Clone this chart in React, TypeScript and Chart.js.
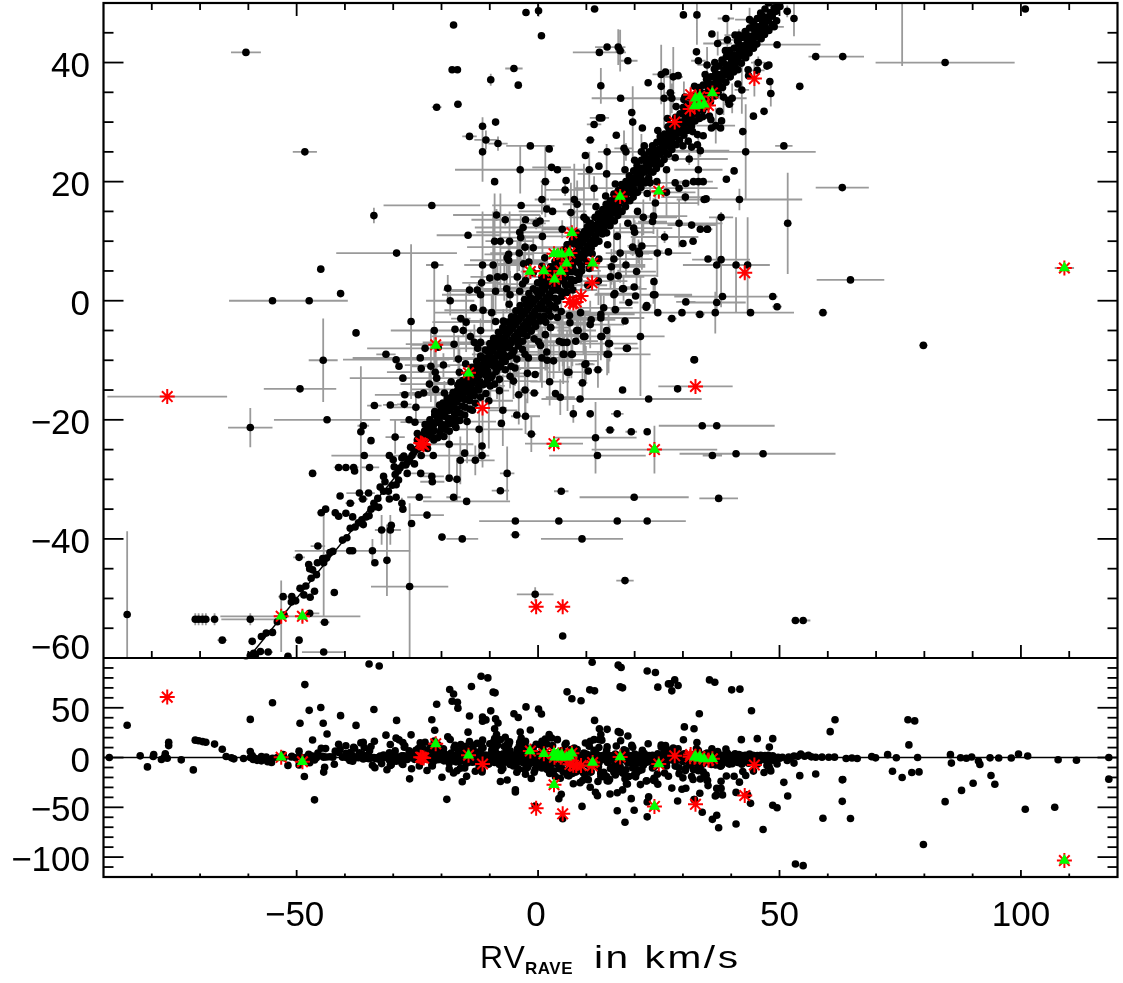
// App.tsx - RV comparison: other survey vs RAVE, with residual panel below
import React, { useEffect, useRef } from 'react';
import { Chart, registerables } from 'chart.js';

Chart.register(...registerables);

type Row = number[];

const xLabels = [-50, 0, 50, 100];
const xMinor = [-80, -70, -60, -40, -30, -20, -10, 10, 20, 30, 40, 60, 70, 80, 90, 110];
const topLabels = [40, 20, 0, -20, -40, -60];
const topMinor = [45, 35, 30, 25, 15, 10, 5, -5, -10, -15, -25, -30, -35, -45, -50, -55];
const bottomLabels = [50, 0, -50, -100];
const bottomMinor = [90, 80, 70, 60, 40, 30, 20, 10, -10, -20, -30, -40, -60, -70, -80, -90, -110];

// x, y, error x, error y
const fieldStars: Row[] = [
  [-60.5, 41.7, 3.1, 0.2], [-48.3, 25, 2.5, 0.2], [-45, 5.3, 0.5, 0.2], [-55, 0, 9, 0.2], [-47.4, 0, 8, 0.2],
  [-40.9, 1.2, 0.5, 0.2], [-34, 14.3, 0.4, 1.3], [-29.3, 8, 12.5, 0.2], [-26.3, -3.5, 0.4, 13], [-22, 16, 10, 0.4],
  [-21.4, 6, 1.8, 0.3], [-21.5, -5, 9, 10.5], [-18.7, 2.1, 0.6, 2.2], [-18.2, 0, 5, 2.5], [-37.7, -5.4, 0.5, 0.6],
  [-17.5, 46.3, 0.5, 0.3], [-17.8, 38.8, 0.4, 0.2], [-16.7, 38.8, 0.4, 0.2], [-21, 32.5, 1, 0.2], [-16.6, 33, 0.8, 0.3],
  [-11.5, 29.3, 0.5, 1.5], [-8.8, 30, 0.3, 0.3], [-14.2, 27.6, 1.5, 0.2], [-10.8, 27, 2.4, 1.6], [-8.3, 26.4, 2, 1.2],
  [-11.5, 25, 0.5, 5], [-3.7, 22, 13.5, 4], [-1.6, 26, 5, 0.2], [2.3, 25.5, 0.8, 0.3], [2.8, 22.4, 4, 0.3],
  [-9, 20, 0.5, 0.3], [-3.5, 16, 6, 0.3], [0.8, 17, 1.5, 2.5], [-9.8, 37.1, 0.7, 1], [-5, 39, 1.8, 0.3],
  [-4.1, 36.2, 0.7, 0.2], [-2.5, 48.4, 0.4, 0.2], [0.1, 48.7, 0.7, 1], [0.7, 44.5, 0.3, 0.2], [-0.4, 13, 2, 1],
  [0.4, 13.4, 2, 1], [-3.1, 12.3, 10, 1.5], [-3.8, 11.5, 9, 1], [-14.5, 11, 6.5, 0.2], [-9, 10, 1.5, 8], [-7.8, 10, 3, 8],
  [-5.9, 10, 5, 5], [-2.7, 9, 12, 2], [-1, 8.9, 7, 2], [-3.9, 8, 6, 3], [-1.9, 6.5, 4, 3], [-3, 6.2, 7, 2],
  [-11.5, 6, 3, 9], [-9.3, 6, 6, 9], [-8.4, 4, 2, 3], [-7, 4, 7, 4], [-4.3, 4, 9, 6], [-11.7, 3, 4, 2],
  [-14.2, 1.8, 3, 1], [-12.6, 1.8, 7, 1], [-11.9, 1, 8, 3], [-6.5, 2, 5, 4], [-5.8, 1, 7, 4], [-11.4, -1.6, 8, 3],
  [-9.6, -2, 12, 3], [-15.5, -5, 3, 1], [-11.9, -5, 13, 2], [-13.2, -7, 7, 3], [-11.9, -7, 12, 2],
  [-44.5, -10, 3, 7], [-49.3, -14.8, 7.5, 0.3], [-43.7, -20, 11, 0.3], [-59.6, -21.3, 4.6, 3.3], [-31.5, -9, 2, 0.3],
  [-29.4, -9.9, 11, 0.3], [-28.8, -11, 0.6, 0.4], [-28, -13, 11, 0.3], [-23.4, -8, 12, 0.4], [-24.4, -9.6, 14, 0.3],
  [-22.2, -11, 4, 6], [-21.3, -12, 10, 6], [-21, -13, 8, 3], [-22.5, -14, 6, 2], [-21.2, -14.9, 5, 3],
  [-23.7, -15.5, 5, 0.5], [-24.8, -15.8, 9, 0.5], [-16.5, -9.8, 7, 4], [-16.3, -12, 10, 4], [-16.3, -13.8, 6, 2],
  [-19.4, -15.5, 8, 2], [-33.9, -17.6, 1.5, 0.3], [-30.6, -17.5, 1.5, 0.3], [-27.7, -17.4, 1.5, 0.3],
  [-26.7, -20, 4, 0.3], [-25.5, -20.4, 3, 0.3], [-36.2, -21, 1.2, 0.3], [-36.7, -22, 0.8, 11], [-29.6, -22.9, 2, 2.8],
  [-30.8, -26, 12, 0.3], [-21.7, -26, 10, 0.3], [-16.1, -26.8, 0.8, 4], [-13, -26.8, 4, 2.5], [-11.6, -26, 1.5, 1],
  [-24.3, -29, 2, 0.3], [-22, -29.5, 2.5, 0.4], [-21.9, -30.4, 2.5, 0.3], [-16.8, -30, 0.7, 3.6], [-6.4, -29, 1.5, 4.5],
  [-41.3, -28, 1, 0.3], [-39.8, -28, 1, 0.3], [-38.2, -28, 1, 0.3], [-34.9, -28, 2, 0.3], [-46.7, -29, 0.8, 0.2],
  [-37, -32.3, 2.7, 0.3], [-35.1, -32.3, 1.3, 0.3], [-36.3, -33.3, 1, 0.3], [-38.9, -34, 1, 0.3], [-24.6, -33, 2.5, 0.3],
  [-17.5, -33, 1.5, 0.3], [-14.8, -33.7, 9, 0.3], [-7.8, -31.9, 1.8, 0.3], [-28.2, -34, 0.5, 0.9], [-28, -35, 0.4, 0.3],
  [-23, -36, 3.5, 0.3], [-4.7, -37, 7.5, 0.3], [-4.7, -39.3, 1, 0.3], [-19.9, -39.7, 0.8, 0.3], [-15.7, -40, 3.3, 0.3],
  [-44.9, -35.6, 0.9, 0.3], [-32.4, -38.5, 1.4, 2.5], [-30.6, -38.5, 2.2, 2.5], [-45.6, -41.2, 1.5, 0.3],
  [-39, -42, 2, 0.3], [-38.4, -42, 12, 0.3], [-34.3, -42, 0.9, 2], [-49.5, -43.1, 1.2, 0.3], [-31.3, -43.6, 0.6, 6],
  [-42.2, -49, 0.6, 0.3], [-26.6, -48, 8, 14], [-52.8, -49.7, 1, 0.4], [-51, -49.7, 1, 0.4], [-47.3, -52.5, 2, 0.3],
  [-85.1, -52.7, 0.3, 14], [-71, -53.5, 0.4, 1], [-70.3, -53.5, 0.4, 1], [-69.5, -53.5, 0.4, 1], [-68.8, -53.5, 0.4, 1],
  [-67, -53.5, 0.5, 1], [-59.6, -53.5, 6, 1], [-44.2, -54, 1, 0.4], [-44.4, -44, 0.4, 9], [-65.4, -57, 1, 0.3],
  [-59.2, -57.2, 0.7, 0.3], [-49.5, -57, 0.7, 0.4], [-44.4, -59, 4.5, 0.3], [-55.9, -59, 1, 0.4], [-51.8, -59.7, 0.7, 0.3],
  [-0.6, -49.3, 3.8, 1.2], [5.1, -56.3, 0.5, 0.2],
  [79.8, -7.5, 0.9, 0.3], [32.3, -9.9, 0.3, 0.3], [28.9, -14.8, 0.5, 0.3], [17.5, -15, 0.4, 0.2], [22.9, -16.5, 11, 0.3],
  [8.7, -16.5, 8, 0.3], [21.2, -6, 5, 10], [13, -6, 6, 4], [9.4, -6, 5, 3], [8, -5, 4, 2], [14.6, -7.2, 6, 5],
  [18.3, -8, 2.5, 0.3], [14.3, -9, 9, 3.5], [6.9, -9, 5, 4], [5.2, -9, 6, 5], [9.7, -10.7, 2, 3], [6.1, -12, 4, 6.5],
  [7.3, -19, 0.4, 1.5], [10.8, -19, 0.4, 0.3], [16.4, -19, 1.3, 0.2], [14.9, -21.7, 1, 0.3], [19.3, -22, 1.2, 0.3],
  [22.6, -22, 0.5, 0.3], [34, -21, 9, 0.3], [37, -21, 12, 0.3], [11.9, -23, 8.5, 6], [12.3, -26, 10, 0.3],
  [36.1, -26, 2, 0.3], [41, -25.7, 11.7, 0.3], [46.6, -25.7, 15, 0.3], [4.8, -32, 1.5, 0.2], [19.9, -33, 11.3, 0.3],
  [37.4, -33.2, 4, 0.3], [4.3, -37, 4, 0.3], [16.4, -37, 9, 0.3], [22.6, -37, 8, 0.3], [9.1, -40, 8.5, 0.2],
  [18, -47, 1.8, 0.2], [53.3, -53.7, 0.8, 0.2], [54.9, -53.7, 1.5, 0.2],
  [100.9, 49, 0.8, 0.2], [63.1, 41, 4.4, 0.3], [57.5, 41, 1.5, 0.3], [84.3, 40, 14.4, 0.3], [11.7, 49, 0.8, 0.3],
  [30.1, 48, 0.5, 0.3], [32.9, 48, 0.4, 5], [38.9, 47.4, 1.7, 0.3], [49.5, 43, 9, 0.3], [53, 47.4, 0.5, 3],
  [51.6, 48.6, 0.8, 1], [48.9, 46, 2, 0.4], [45.6, 40, 1.5, 1], [47.4, 39.4, 0.6, 0.3], [45.4, 38.7, 1.5, 0.8],
  [43.5, 38.8, 0.7, 0.4], [54.2, 36, 0.6, 0.5], [48.2, 34.8, 0.8, 2.2], [40.2, 34, 3, 2.5], [39.6, 33, 1, 0.4],
  [13, 36.1, 0.5, 3], [25.5, 38, 1.8, 5], [25.5, 36, 0.8, 3], [14.3, 42.6, 2.5, 0.4], [16.6, 42.6, 1.5, 3], [17, 42, 1, 3.5],
  [12.7, 41.7, 5.5, 0.4], [18.6, 40.3, 2, 0.3], [33.2, 40.3, 1.5, 0.4], [17.1, 34, 6, 0.3], [26.1, 34, 2, 5],
  [27.4, 34.9, 1, 4], [27.7, 34, 8, 2.5], [12.7, 30.7, 2, 0.4], [13.2, 30.7, 1, 0.3], [11.6, 29.6, 1.5, 0.3],
  [10.8, 27, 1, 0.3], [19.6, 30, 0.6, 6], [21.6, 29, 0.7, 0.3], [14.3, 25, 1.5, 0.3], [18.2, 25, 5, 1.5], [21.4, 25, 9, 3],
  [50.9, 26, 1.8, 0.3], [43, 25, 14.5, 8], [33.2, 22, 5, 6], [32.2, 20, 3, 0.3], [33.2, 20, 3, 0.3], [34.2, 20, 2, 0.3],
  [63, 19, 5.5, 0.3], [28.4, 19.8, 6, 0.3], [30.6, 19.7, 0.5, 0.3], [29.2, 18.9, 8, 0.4], [41.7, 17, 13, 1.8],
  [34.4, 17, 1.8, 0.3], [34.8, 17.1, 1.2, 0.3], [30.5, 17.4, 5, 1], [51.7, 13, 0.8, 8.5], [37.9, 14, 2.5, 0.3],
  [35, 12, 0.7, 0.3], [31.8, 12.7, 5, 0.4], [29.2, 13, 9, 4], [32.1, 10, 0.7, 0.3], [35.2, 7, 0.6, 0.3], [37.9, 6.9, 6, 8],
  [37, 6, 7, 8], [41, 6, 7, 8], [43.4, 6, 4, 8], [64.7, 3.5, 7, 0.3], [38.2, 0.7, 10, 0.3], [48.6, 0.7, 1, 0.3],
  [30.6, -0.2, 2, 0.4], [37, -0.3, 6, 0.4], [18.8, -0.3, 2, 0.5], [49.5, -1, 1, 0.3], [22.5, -0.8, 1, 0.5], [22.4, -1.1, 1, 0.5],
  [24.8, -2, 11, 0.3], [29.8, -2, 8, 0.3], [33.5, -2.3, 1, 0.3], [36.7, -2, 10, 3.5], [44, -2, 9, 0.3], [59, -2, 0.9, 0.2],
  [27.7, -3, 1, 0.3], [23.9, 1, 8, 1.5], [15.7, 1, 4, 2.5], [17.5, 2, 5, 0.3], [19.9, 2.3, 1.5, 0.3], [16, -1.5, 1, 0.3],
  [24.2, 1, 7, 3], [15.9, 1.2, 4, 2], [17.7, 2, 4, 2], [8.8, -2, 8, 4], [13, -2.3, 7, 3], [13, -2.9, 9, 4], [6.5, -2.5, 6, 3],
  [6.6, -3.7, 4, 2], [10.8, -4, 7, 4], [2.6, -4.5, 3, 6], [8.3, -5, 3, 2], [9.7, -6, 10, 4], [13.2, -6, 5, 3],
  [14.8, -7.2, 2, 3], [5.1, -7, 4, 4], [6, -7, 3, 2], [5.4, -9, 4, 3], [7.1, -9, 3, 2], [14.6, -9, 8, 3], [18.5, -8, 2, 0.3],
  [1.8, -8.6, 12, 3], [1.9, -10, 8, 4], [3.2, -10.1, 9, 3], [9.9, -10.6, 1.5, 3], [6.4, -12, 3, 1], [32.4, -9.9, 0.4, 0.3],
  [35.1, 12, 1, 0.3], [23.9, 14.2, 7, 3], [21.8, 14, 7, 3], [23.7, 13.3, 3, 0.4], [20, 11.5, 4, 2], [19.6, 9, 1, 1.5],
  [21.5, 9.2, 3, 4], [20.8, 8.3, 5, 2], [21, 7.9, 2, 2], [24.7, 8, 7, 4], [17, 8, 3, 5], [15.7, 7, 8, 5], [18.2, 6, 4, 2],
  [15.2, 5.7, 7, 3], [0.1, -6.9, 9, 3], [1.5, -5.7, 7, 6], [2.6, -4.5, 4, 3], [4.4, -6.8, 8, 5], [-5.5, -9.1, 7, 2],
  [-4.4, -9.8, 5, 3], [-2.7, -9, 11, 6], [-2, -9.6, 8, 3], [0.8, -9.6, 6, 5], [-5.1, -13.5, 5, 3], [-5.8, -12.7, 4, 2],
  [-4.8, -11.3, 7, 3], [-9.9, -14.3, 3, 2], [-8, -15.1, 2, 3], [-4, -15.8, 1, 5], [-2.7, -15, 1, 4], [-0.8, -15.5, 1, 0.4],
  [0.9, 10.8, 5, 3], [5, 12, 4, 1.5], [3, 15, 7, 0.6], [1.5, 20, 1, 6], [7.5, 17, 5, 6], [9.5, 14, 3, 9], [4, 22, 6, 0.4],
  [-3.2, 2.8, 5, 3], [-7.2, -3.4, 8, 2], [-1.5, -3.6, 9, 3], [0.5, -7.5, 5, 6], [-8.5, -11.5, 5, 5], [7.2, 1.8, 5, 3],
  [4.8, -1.8, 6, 4], [12.5, 3.3, 6, 4], [15, 4, 7, 2], [2.6, -2.6, 6, 7], [-2.2, -12.2, 3, 5], [-14, -6, 8, 1], [-16, -3, 2, 0.5],
  [10.3, 2.6, 4, 1], [9, 5, 4, 5], [-6.6, -7.8, 6, 3], [1, 2.2, 7, 3],
  // lattice of error bars close around the ridge
  [-25.3, -17.9, 6, 2], [-18.4, -24.1, 5, 5], [-14.7, -20.3, 6, 7], [-12.2, -21.6, 9, 5], [-10.2, -16.8, 5, 8], [-7.3, -18.4, 3, 6],
  [-19.6, -10.8, 8, 2], [-17.4, -7.3, 10, 3], [-14.9, -3.6, 7, 5], [-8.8, 1.6, 10, 4], [-6.1, 6.8, 8, 3], [-3.6, 10.6, 4, 4],
  [8.1, 16.2, 3, 4], [11.6, 18.9, 4, 2], [14.2, 21.3, 6, 5], [17.8, 25.6, 2, 3], [19.8, 12.2, 8, 2], [24.3, 16.4, 9, 2],
  [26.6, 18.2, 6, 4], [31.3, 23.8, 8, 1], [28, 37.6, 2, 5], [30.2, 33.8, 5, 3], [33.6, 25.2, 6, 1], [36.8, 29.4, 4, 3], [38.4, 34.2, 2, 3],
  [41.6, 44.6, 3, 1], [43.8, 47.2, 3, 2], [39.2, 43.8, 2, 3], [37.2, 43.2, 3, 2], [35, 39.6, 2, 3], [42.2, 35.4, 1.5, 4],
  [-2.6, -19.4, 3, 3], [2.4, -13.6, 4, 4], [4.6, -16.2, 3, 3], [9.2, -13.8, 1, 3], [12.4, -11.6, 1, 3], [-1.4, -22.4, 1, 3],
  [6.8, 14.8, 1, 5], [10.6, 22, 1, 3], [5.6, 18.6, 4, 1], [-6.8, 13.6, 7, 1], [-8.6, 14.4, 9, 1], [-6.1, 7.8, 5, 1],
  [16.6, 4.2, 8, 1], [20.4, 4.9, 4, 3], [26.2, 10.7, 7, 1], [23.2, 19.8, 5, 3], [13.6, -1.2, 6, 2], [11, -3.2, 5, 1],
];

// stars close to the 1:1 line, x and y only
const ridgeStars: Row[] = [
  [-59.6, -59.6], [-58.9, -59.2], [-58.5, -59.4], [-57.5, -58.9], [-57.3, -56.4], [-56.3, -55.8], [-55, -55.7], [-54, -53.9],
  [-52.6, -52.8], [-51.1, -50.6], [-50.2, -50.4], [-49.3, -48.3], [-48.5, -49.4], [-46.3, -48.8], [-47.2, -49.8], [-48.1, -47.9],
  [-47.5, -44.3], [-47.3, -45], [-45.7, -44], [-46.7, -45.2], [-45.9, -46], [-47, -46.6], [-44.6, -43.3], [-43.8, -43.2],
  [-43.1, -42.3], [-42.5, -42.1], [-40.5, -40.2], [-39.6, -39.8], [-38.9, -38.2], [-37.9, -38], [-37.2, -37.3], [-36.5, -36.8],
  [-36.2, -37.6], [-35.6, -36.3], [-35, -36.1], [-34.6, -35], [-34, -34], [-33.7, -34.6], [-33, -34.7], [-33.2, -33.2],
  [-32.7, -31.3], [-32, -32], [-31.7, -30.4], [-32, -29.5], [-31, -32], [-30.8, -33.3], [-30.2, -31], [-29.4, -30.9],
  [-29.4, -33], [-30, -26.7], [-42, -35.6], [-41.3, -36.2], [-39.8, -35.7], [-38.4, -36.3],
  [-29.6, -29.2], [-29, -28.6], [-28.2, -26.4], [-28.6, -28.1], [-28, -27.6], [-27.4, -27.6], [-27, -27.1], [-26.6, -26.6],
  [-26.1, -26], [-25.7, -25.4], [-25.2, -25], [-24.8, -24.8], [-24.5, -24], [-24.1, -24.3], [-23.6, -23.1], [-23.1, -23.2],
  [-22.7, -22.1], [-22.2, -22.4], [-21.8, -21.1], [-21.5, -21.8], [-21, -20.4], [-20.6, -19.8], [-20.2, -20.6], [-19.8, -19.3],
  [-25, -22.3], [-23.4, -20.8], [-22.4, -20], [-21.4, -18.6], [-20.4, -17.5], [-19.4, -17.6], [-18.6, -19.9], [-17.6, -20.4],
  [-19.4, -19.4], [-19, -18.6], [-18.7, -17.9], [-18.3, -18.4], [-17.9, -17.4], [-17.5, -17.8], [-17.2, -16.6], [-16.8, -17],
  [-16.5, -15.9], [-16.2, -16.4], [-15.8, -15.4], [-15.5, -16], [-15.2, -14.6], [-14.9, -15.2], [-14.6, -14], [-14.3, -14.7],
  [-14, -13.4], [-13.7, -14], [-13.4, -12.6], [-13.1, -13.4], [-12.8, -12], [-12.5, -12.9], [-12.2, -11.4], [-12, -12.4],
  [-11.7, -10.8], [-11.4, -11.8], [-11.1, -10.3], [-10.8, -11.4], [-10.5, -9.6], [-10.2, -10.8], [-10, -9], [-9.7, -10.2],
  [-9.4, -8.4], [-9.1, -9.7], [-8.8, -7.8], [-8.5, -9.2], [-8.2, -7.4], [-7.9, -8.8], [-7.6, -6.8], [-7.3, -8.2],
  [-7, -6.2], [-6.7, -7.6], [-6.4, -5.6], [-6.1, -7], [-5.8, -5], [-5.5, -6.6], [-5.2, -4.4], [-4.9, -6],
  [-4.6, -3.8], [-4.3, -5.4], [-4, -3.2], [-3.7, -4.8], [-3.4, -2.6], [-3.1, -4.2], [-2.8, -2], [-2.5, -3.6],
  [-2.2, -1.4], [-1.9, -3], [-1.6, -0.8], [-1.3, -2.4], [-1, -0.2], [-0.7, -1.8], [-0.4, 0.3], [-0.1, -1.2],
  [0.2, 0.8], [0.5, -0.6], [0.8, 1.4], [1.1, -0.1], [1.4, 2], [1.7, 0.5], [2, 2.7], [2.3, 1.1],
  [2.6, 3.2], [2.9, 1.7], [3.2, 3.9], [3.5, 2.3], [3.8, 4.4], [4.1, 2.9], [4.4, 5], [4.7, 3.5],
  [5, 5.6], [5.3, 4.1], [5.6, 6.2], [5.9, 4.7], [6.2, 6.8], [6.5, 5.3], [6.8, 7.4], [7.1, 5.9],
  [7.4, 8], [7.7, 6.6], [8, 8.6], [8.3, 7.2], [8.6, 9.2], [8.9, 7.8], [9.2, 9.8], [9.5, 8.4],
  [9.8, 10.4], [10.1, 9], [10.4, 11], [10.7, 9.6], [11, 11.6], [11.3, 10.2], [11.6, 12.2], [11.9, 10.9],
  [12.2, 12.8], [12.5, 11.6], [12.8, 13.4], [13.1, 12.2], [13.4, 14], [13.7, 12.9], [14, 14.5], [14.3, 13.6],
  [14.6, 15.1], [14.9, 14.2], [15.2, 15.7], [15.5, 14.8], [15.8, 16.3], [16.1, 15.5], [16.4, 16.9], [16.7, 16.2],
  [17, 17.5], [17.4, 16.8], [17.8, 18.3], [18.1, 17.4], [18.5, 19], [18.9, 18.2], [19.3, 19.8], [19.7, 19],
  [20.1, 20.7], [20.5, 19.8], [20.9, 21.5], [21.3, 20.7], [21.7, 22.3], [22.1, 21.6], [22.5, 23.1], [22.9, 22.3],
  [23.3, 23.9], [23.7, 23], [24.1, 24.7], [24.5, 23.8], [24.9, 25.4], [25.3, 24.6], [25.7, 26.1], [26.1, 25.2],
  [26.5, 26.9], [26.9, 26], [27.3, 27.7], [27.7, 26.8], [28.1, 28.5], [28.5, 27.6], [28.9, 29.2], [29.3, 28.3],
  [29.7, 30], [30.1, 29], [30.5, 30.8], [30.9, 29.8], [31.3, 31.6], [31.7, 30.6], [32.1, 32.4], [32.5, 31.5],
  [32.9, 33.2], [33.3, 32.3], [33.7, 34], [34.1, 33], [34.5, 34.8], [34.9, 33.9], [35.3, 35.6], [35.7, 34.8],
  [36.1, 36.4], [36.5, 35.6], [36.9, 37.2], [37.3, 36.4], [37.7, 38], [38.1, 37.2], [38.5, 38.8], [38.9, 38],
  [39.3, 39.6], [39.7, 38.8], [40.1, 40.4], [40.5, 39.6], [40.9, 41.2], [41.3, 40.4], [41.7, 42], [42.1, 41.2],
  [42.5, 42.8], [42.9, 42], [43.3, 43.6], [43.7, 42.8], [44.1, 44.4], [44.5, 43.6], [44.9, 45.2], [45.3, 44.6],
  [45.7, 46], [46.1, 45.4], [46.5, 46.8], [46.9, 46.2], [47.3, 47.6], [47.7, 47], [48.1, 48.4], [48.5, 47.8],
  [48.9, 49.2], [49.3, 48.6], [49.7, 50], [50.1, 49.4],
  [-18, -13.6], [-15, -10.6], [-12.5, -8], [-17, -21.3], [-13.6, -18.4], [-10.8, -15.6], [-8.8, -3.5], [-6, -0.6], [-3.8, 1.6],
  [-8, -13.2], [-5.6, -11], [-3.2, -8.2], [-1, 4.7], [1.4, 7.2], [3.6, -1.2], [6, 1.4], [8.4, 3.6], [10.6, 5.4], [12.6, 7],
  [14.4, 9.4], [16.4, 10.8], [18.6, 13], [20.6, 15], [22.6, 18], [24.6, 20], [26.6, 22], [28.4, 24], [30, 26], [32, 28.4],
  [24.8, 28.6], [26.8, 30.6], [28.6, 32.6], [30.4, 34.2], [32.4, 36], [34.6, 38], [36.6, 40], [38.8, 42], [40.8, 44.6],
  [16, 19.6], [18, 22], [20, 23.6], [22, 26], [14, 17.6], [12, 15.8], [10, 13.6], [8, 11.4], [6, 9.4], [-2.6, 3.4], [0.8, 5.8],
  [-0.8, -6.4], [1.6, -3.6], [4, -2.8], [-6.8, -11.6], [-9, -14], [35.8, 30.4], [37.6, 31.8], [39.4, 33.6], [41.4, 36.4], [43.6, 37.8],
  [31.8, 25.8], [33, 26.2], [33, 27.9], [34.2, 27.7], [31.1, 26.8], [35.9, 29], [38, 30.2], [37.8, 29], [34.1, 30.9], [35.5, 31],
];

// outer flanks of the ridge, where it is broadest
const ridgeFlanks: Row[] = [
  [-29.8, -27.9], [-28.9, -30.1], [-27.8, -26.1], [-27.1, -29], [-26.4, -24.6], [-25.6, -27.4], [-25, -23.4], [-24.2, -26], [-23.5, -21.9],
  [-22.9, -24.8], [-22.1, -20.4], [-21.6, -23.4], [-20.9, -18.9], [-20.3, -22.2], [-19.7, -17.2], [-19.2, -21.6], [-18.8, -16.4], [-18.2, -20.6],
  [-17.6, -15.4], [-17.1, -19.8], [-16.6, -14.2], [-16.1, -18.9], [-15.6, -13.4], [-15.1, -17.9], [-14.7, -12.4], [-14.2, -16.8], [-13.7, -11.2],
  [-13.2, -15.9], [-12.7, -10.2], [-12.3, -15], [-11.9, -9.3], [-11.4, -14.1], [-10.9, -8.3], [-10.4, -13.2], [-10, -7.2], [-9.5, -12.6],
  [-9.2, -6.3], [-8.7, -11.9], [-8.2, -5.3], [-7.8, -11.1], [-7.3, -4.5], [-6.8, -10.2], [-6.4, -3.6], [-5.9, -9.3], [-5.5, -2.7], [-5, -8.4],
  [-4.6, -1.7], [-4.1, -7.6], [-3.7, -0.8], [-3.2, -6.8], [-2.8, 0.2], [-2.3, -5.9], [-1.9, 1.2], [-1.4, -5.1], [-1, 2], [-0.5, -4.3],
  [-0.1, 3], [0.4, -3.4], [0.8, 3.9], [1.3, -2.6], [1.7, 4.8], [2.2, -1.7], [2.6, 5.7], [3.1, -0.9], [3.5, 6.6], [4, -0.1],
  [4.4, 7.6], [4.9, 0.7], [5.3, 8.5], [5.8, 1.6], [6.2, 9.4], [6.7, 2.6], [7.1, 10.2], [7.6, 3.4], [8, 11], [8.5, 4.4],
  [-19.8, -18], [-19, -20.8], [-18.2, -16.4], [-17.3, -19], [-16.4, -14.5], [-15.7, -17.7], [-14.8, -12.9], [-14, -15.9], [-13.1, -11.2],
  [-12.4, -14.4], [-11.5, -9.6], [-10.7, -12.6], [-9.9, -8], [-9.1, -11], [-8.3, -6.5], [-7.5, -9.6], [-6.7, -4.8], [-5.9, -7.9],
  [-5.1, -3.1], [-4.3, -6.2], [-3.5, -1.6], [-2.7, -4.8], [-1.9, 0.1], [-1.1, -3.2], [-0.3, 1.6], [0.5, -1.4], [1.3, 3.2], [2.1, 0.2],
  [2.9, 4.8], [3.7, 1.8], [4.5, 6.5], [5.3, 3.3], [6.1, 8], [6.9, 4.9], [7.7, 9.7], [8.5, 6.4], [9.3, 11.2], [10.1, 8],
  [10.9, 13], [11.7, 9.6], [12.5, 14.6], [13.3, 11.2], [14.1, 16.2], [14.9, 12.6], [15.7, 17.9], [16.5, 14.3], [17.3, 19.5], [18.1, 15.8],
  [18.9, 21], [19.7, 17.4], [20.5, 22.7], [21.3, 19], [22.1, 24.4], [22.9, 20.6], [23.7, 26], [24.5, 22.2], [25.3, 27.6], [26.1, 23.7],
  [26.9, 29.2], [27.7, 25.4], [28.5, 30.8], [29.3, 27], [30.1, 32.5], [30.9, 28.6], [31.7, 34.1], [32.5, 30.2], [33.3, 35.8], [34.1, 31.9],
  [34.9, 37.2], [35.7, 33.4], [36.5, 38.9], [37.3, 35], [38.1, 40.4], [38.9, 36.7], [39.7, 42], [40.5, 38.4], [41.3, 43.6], [42.1, 39.9],
  [42.9, 45.2], [43.7, 41.6], [44.5, 46.8], [45.3, 43.1], [46.1, 48.3], [46.9, 44.7], [47.7, 50], [48.5, 46.4],
  // residual scatter of about 10-25 km/s on either side
  [-38, -28.6], [-34.6, -23.5], [-30.4, -37.7], [-27.6, -15.8], [-26.2, -37.4], [-24.2, -11.4], [-20.7, -7.8], [-18.4, -29.8], [-17.2, -4.8],
  [-15.2, -25.6], [-13.4, -1.2], [-11.6, -24.4], [-10, 3.8], [-7.6, -20.6], [-6.4, 7.2], [-4.4, -19.2], [-2.6, 13.6], [-0.6, -12.4], [1.8, 15.4],
  [3.6, -15.6], [5.8, 20.2], [7.8, -6.8], [9.8, 24.4], [10.4, -11.8], [12.6, 22.6], [14.2, -5], [16.2, 27.8], [18, -3.4], [19.4, 31.6],
  [20.2, 0.8], [22.8, 36.6], [24, 3.2], [26.4, 38.4], [27, 8.2], [29, 37.8], [30, 9.6], [32.8, 41.8], [33.6, 12], [36, 44.8], [39, 20.4],
  [40.6, 21.8], [42.4, 28.4], [44.6, 31], [46.8, 31.8], [47.8, 39.6], [48, 36.8], [-44, -35], [-41, -32.8], [-36, -26], [-33.8, -44],
];

// filling of the solid core of the ridge
const ridgeCore: Row[] = [
  [-21.4, -19.2], [-20.8, -23], [-20.1, -18.3], [-19.5, -22.8], [-18.9, -17.2], [-18.4, -21.9], [-17.8, -16.1], [-17.2, -20.9], [-16.7, -15.1],
  [-16.2, -20.1], [-15.7, -14.4], [-15.2, -19.2], [-14.6, -13], [-14.1, -18.2], [-13.5, -11.9], [-13, -17.2], [-12.4, -10.8], [-11.9, -16.2],
  [-11.3, -9.7], [-10.8, -13.9], [-10.2, -8.6], [-9.7, -12.9], [-9.1, -7.2], [-8.6, -10.8], [-8, -6], [-7.5, -10.4], [-6.9, -5.1], [-6.4, -9.4],
  [-5.8, -4], [-5.3, -8.9], [-4.7, -2.8], [-4.2, -7.1], [-3.6, -1.9], [-3.1, -5.6], [-2.5, -0.6], [-2, -4.6], [-1.4, 0.4], [-0.9, -3.6],
  [-0.3, 1.7], [0.2, -2.6], [0.8, 2.6], [1.3, -1.4], [1.9, 3.8], [2.4, -0.6], [3, 5.2], [3.5, 0.4], [4.1, 6], [4.6, 1.6], [5.2, 7.4], [5.7, 2.7],
  [6.3, 8.4], [6.8, 3.6], [7.4, 9.6], [7.9, 4.8], [8.5, 10.4], [9, 5.8], [9.6, 11.6], [10.1, 6.6], [10.7, 12.9], [11.2, 7.9],
  [8.6, 10.8], [9.4, 7.2], [10.2, 12.4], [11, 8.8], [11.8, 14], [12.6, 10], [13.4, 15.3], [14.2, 11.4], [15, 16.8], [15.8, 13.4], [16.6, 18.5],
  [17.4, 15], [18.2, 20], [19, 16.8], [19.8, 21.8], [20.6, 18.2], [21.4, 23.6], [22.2, 19.8], [23, 25], [23.8, 21.6], [24.6, 26.6], [25.4, 23],
  [26.2, 28], [27, 24.6], [27.8, 29.6], [28.6, 26.2], [29.4, 31.4], [30.2, 27.8], [31, 33], [31.8, 29.4], [32.6, 34.4], [33.4, 30.6],
  [34.2, 36.2], [35, 32.6], [35.8, 37.6], [36.6, 34.4], [37.4, 39.4], [38.2, 35.8], [39, 41], [39.8, 37.6], [40.6, 42.4], [41.4, 38.8],
  [42.2, 44.2], [43, 40.8], [43.8, 45.8], [44.6, 42.4], [45.4, 47.4], [46.2, 44], [47, 49], [47.8, 45.4], [48.6, 50.4], [49.4, 47],
  [-24, -22.8], [-23.2, -24.6], [-22.4, -21.1], [-21.6, -23], [-20.8, -19.6], [-20, -21.4], [-19.2, -17.9], [-18.4, -19.8], [-17.6, -16.3], [-16.8, -18.2],
  [-16, -14.8], [-15.2, -16.6], [-14.4, -13], [-13.6, -15], [-12.8, -11.4], [-12, -13.6], [-11.2, -9.9], [-10.4, -11.9], [-9.6, -8.2], [-8.8, -10.4],
  [-8, -6.8], [-7.2, -8.9], [-6.4, -5], [-5.6, -7.1], [-4.8, -3.4], [-4, -5.5], [-3.2, -1.8], [-2.4, -3.9], [-1.6, -0.4], [-0.8, -2.3],
  [0, 1.3], [0.8, -0.7], [1.6, 2.8], [2.4, 0.9], [3.2, 4.6], [4, 2.4], [4.8, 6.1], [5.6, 4], [6.4, 7.8], [7.2, 5.5],
  [8, 9.4], [8.8, 7.2], [9.6, 11], [10.4, 8.9], [11.2, 12.7], [12, 10.4], [12.8, 14.1], [13.6, 12], [14.4, 15.8], [15.2, 13.6],
  [16, 17.3], [16.8, 15.2], [17.6, 19], [18.4, 16.8], [19.2, 20.5], [20, 18.4], [20.8, 22.2], [21.6, 20.1], [22.4, 23.8], [23.2, 21.6],
  [24, 25.3], [24.8, 23.2], [25.6, 27], [26.4, 24.9], [27.2, 28.5], [28, 26.4], [28.8, 30.2], [29.6, 28.2], [30.4, 31.9], [31.2, 29.8],
  [32, 33.3], [32.8, 31.4], [33.6, 35.1], [34.4, 33], [35.2, 36.6], [36, 34.7], [36.8, 38.2], [37.6, 36.1], [38.4, 39.9], [39.2, 37.9],
  [40, 41.3], [40.8, 39.4], [41.6, 43.1], [42.4, 41.1], [43.2, 44.6], [44, 42.7], [44.8, 46.3], [45.6, 44.3], [46.4, 47.9], [47.2, 45.8],
];

// stars that fall outside the upper frame and only show in the residual panel
const offFrameStars: Row[] = [
  [-88.8, -88.8], [-82.4, -80.7], [-80.9, -90.3], [-79.7, -78.7], [-79.6, -76.6], [-78, -80], [-77.4, -77.1], [-77.2, -73.5],
  [-76.8, -77.5], [-76.5, -64.5], [-76.5, -61.1], [-73.9, -76.2], [-71.4, -83.8], [-64.6, -63.6], [-63.5, -63.8], [-63, -64.3],
  [-61, -62], [-59, -61], [-58.2, -61], [-57.3, -60.6], [-56, -60.2], [-55.2, -60.2], [-35, 59], [-32.9, 59], [-46.3, -88.8], [-48.4, -67.4],
  [-18.9, -60.9], [-11.8, 69.9], [-10.4, 69.6], [-13.8, 57.6], [-18.3, 50.1], [-9.3, 56.4], [-8.9, 56.1],
  [11.2, 107], [16.6, 109.4], [17.2, 107.7], [22.6, 109.6], [24.3, 109.7], [27.4, 101.4], [28.3, 106.3], [27, 101], [29, 101.4],
  [27.7, 94.7], [24.8, 95.5], [17, 88], [17.5, 87.5], [10.7, 78.7], [11.7, 78.7], [6, 72], [7, 66], [8.9, 65.9],
  [35.5, 113.5], [36.6, 112.3], [40.1, 108.1], [41.8, 110.5], [44.2, 91.2], [33.4, 77.4], [30.3, 61.1], [32.3, 61.3],
  [48.6, 67.6], [45.4, 64.4], [42.1, 60.1], [47.9, 58.4], [61.5, 99.5], [60.5, 86.5], [76.6, 114.5], [78, 114.8], [76.8, 89.5],
  [50.6, 50.9], [51.9, 52.5], [53, 54.5], [54.4, 57.8], [55.2, 56.5], [56, 58.2], [57.5, 57.8], [60.2, 60.5], [61.4, 61.8],
  [63.8, 62.8], [65, 64.5], [66.1, 65.1], [69.1, 70], [69.9, 69.6], [72.4, 75.3], [74.2, 74], [78.6, 78.6], [85.4, 88.3], [85.6, 80],
  [87.5, 87.3], [88.7, 88], [89.8, 90.4], [91.2, 87.8], [91.5, 84.6], [93.6, 93.3], [95.4, 95], [98, 97.5], [99.5, 103], [101.4, 103],
  [107.7, 105.5], [111.5, 108.8], [118.2, 118.2], [118.2, 96.5], [63, 40.6], [87.7, 54.7], [90.1, 64.3], [93.8, 75.8], [94.6, 67.8],
  [107, 57], [73.4, 59.7], [75.4, 55.4], [77.4, 62.4], [78.9, 64.5], [56.6, 57.3], [58.8, 59.2], [52.2, 51.2], [53.8, 55],
];

// the single clipped star with a long error bar that still enters the frame
const clippedErrors: Row[] = [[75.4, 55.4, 0.3, 16]];

const flaggedStars: Row[] = [
  [-76.8, -16.1, 12.4, 0.3], [-53.2, -53, 12.6, 6], [-48.8, -53, 12, 1], [-24, -24, 1, 0.5], [-23.7, -24.2, 1, 0.5], [-24.3, -23.9, 1, 0.5],
  [-21.2, -7.4, 5, 3], [-14.4, -12.1, 2, 1.5], [-11.5, -18, 5, 10], [-1.6, 4.9, 2, 1], [1.2, 5, 2, 1], [3.4, 3.6, 2, 1], [3.3, 7.9, 1, 1],
  [4.7, 5, 1, 1], [5.9, 6.3, 1, 1], [6.6, 8, 1, 1], [4.9, 7.8, 1, 1], [7, 11.4, 1, 1], [11.3, 6.3, 1, 1], [11.2, 3, 0.5, 0.5],
  [8.9, 0.8, 0.5, 0.5], [7.3, -0.4, 0.5, 0.5], [6.6, -0.2, 0.5, 0.5], [7.9, -0.2, 0.5, 0.5], [17, 17.5, 1, 1], [25, 18.4, 1, 1],
  [28.3, 30, 1, 1], [32.6, 34, 1, 1], [33.5, 34.3, 1, 1], [34.4, 33, 1, 1], [32.4, 32.7, 1, 1], [31.5, 32.2, 1, 1], [35.3, 32.8, 1, 1],
  [36.1, 34.9, 1, 1], [31.6, 34.6, 1, 1], [44.8, 37.3, 1, 3], [42.8, 4.7, 0.6, 1], [109, 5.5, 2, 0.3], [32.6, -14.4, 7.7, 0.3],
  [24.1, -25, 13, 4], [3.3, -24, 6, 0.4], [-0.4, -51.4, 0.5, 0.5], [5.1, -51.4, 0.5, 0.5],
];

const greenTriangles: Row[] = [
  [-53.2, -53], [-48.8, -53], [-21.2, -7.5], [-14.4, -12.2], [-1.7, 4.9], [1.2, 5], [3.4, 3.6], [3.3, 7.9], [4.1, 7.9], [4.9, 7.8],
  [6.4, 8], [4.7, 4.9], [5.9, 6.3], [7, 11.4], [11.3, 6.3], [17, 17.5], [25, 18.4], [32.6, 34], [33.5, 34.3], [34.4, 33],
  [32.4, 32.7], [33.4, 32.8], [36.1, 34.9], [109, 5.5], [24.1, -25], [3.3, -24],
];

const unityLine = [-60, 50];
const rangeX = [-90, 120];
const rangeTop = [-60, 50];
const rangeBottom = [-120, 100];

const asPoints = (rows: Row[]) => rows.map(([x, y]) => ({ x, y }));
const asResiduals = (rows: Row[]) => rows.map(([x, y]) => ({ x, y: y - x }));
const asErrorBars = (rows: Row[]) =>
  rows.flatMap(([x, y, ex, ey]) => [
    { x: x - ex, y }, { x: x + ex, y }, { x: null, y: null },
    { x, y: y - ey }, { x, y: y + ey }, { x: null, y: null },
  ]);

const errorSet = (data: any[]) => ({
  type: 'line', data, yAxisID: 'yTop', borderColor: '#9a9a9a', borderWidth: 1.8,
  pointRadius: 0, spanGaps: false, tension: 0, clip: 0, order: 9,
});
const dotSet = (data: any[], yAxisID: string) => ({
  type: 'scatter', data, yAxisID, backgroundColor: '#000', borderWidth: 0, pointRadius: 3.8, clip: 0, order: 7,
});
const starSet = (data: any[], yAxisID: string) => ({
  type: 'scatter', data, yAxisID, pointStyle: 'star', borderColor: '#ff0000', borderWidth: 2, pointRadius: 7.5, clip: 0, order: 5,
});
const triangleSet = (data: any[], yAxisID: string) => ({
  type: 'scatter', data, yAxisID, pointStyle: 'triangle', backgroundColor: '#00ff00', borderWidth: 0, pointRadius: 6.5, clip: 0, order: 4,
});
const lineSet = (data: any[], yAxisID: string) => ({
  type: 'line', data, yAxisID, borderColor: '#000', borderWidth: 1.4, pointRadius: 0, clip: 0, order: 8,
});

const allStars = [...fieldStars, ...ridgeStars, ...ridgeFlanks, ...ridgeCore];

const axisFrame = {
  id: 'axisFrame',
  afterDraw(chart: any) {
    const { ctx, scales } = chart;
    const x = scales.x, top = scales.yTop, low = scales.yBottom;
    const left = x.left, right = x.right;
    ctx.save();
    ctx.strokeStyle = '#000';
    ctx.fillStyle = '#000';

    const seg = (x0: number, y0: number, x1: number, y1: number) => {
      ctx.beginPath();
      ctx.moveTo(x0, y0);
      ctx.lineTo(x1, y1);
      ctx.stroke();
    };

    ctx.lineWidth = 2.2;
    ctx.strokeRect(left, top.top, right - left, low.bottom - top.top);
    seg(left, top.bottom, right, top.bottom);

    // inward ticks on every side
    ctx.lineWidth = 1.8;
    const vTicks = (vals: number[], scale: any, len: number) => vals.forEach((v) => {
      const p = scale.getPixelForValue(v);
      seg(left, p, left + len, p);
      seg(right, p, right - len, p);
    });
    vTicks(topLabels.filter((v) => v !== -60), top, 20);
    vTicks(topMinor, top, 10);
    vTicks(bottomLabels, low, 20);
    vTicks(bottomMinor, low, 10);
    const hTicks = (vals: number[], len: number, lowLen: number) => vals.forEach((v) => {
      const p = x.getPixelForValue(v);
      seg(p, top.top, p, top.top + len);
      seg(p, top.bottom, p, top.bottom - len);
      seg(p, low.bottom, p, low.bottom - lowLen);
    });
    hTicks(xLabels, 13, 7);
    hTicks(xMinor, 7, 3.5);

    ctx.font = '35px "Liberation Sans"';
    ctx.textAlign = 'right';
    ctx.textBaseline = 'alphabetic';
    const tickText = (v: number) => (v < 0 ? '\u2212' + Math.abs(v) : String(v));
    topLabels.forEach((v) => {
      // the lowest label sits on the panel edge, lifted clear of the panel below
      const lift = v === -60 ? 13 : 0;
      ctx.fillText(tickText(v), 90, top.getPixelForValue(v) + 14 - lift);
    });
    bottomLabels.forEach((v) => ctx.fillText(tickText(v), 90, low.getPixelForValue(v) + 14));
    ctx.textAlign = 'center';
    xLabels.forEach((v) => ctx.fillText(tickText(v), x.getPixelForValue(v) - (v <= 0 ? 2 : 0), 926));

    // axis title, subscript drawn by hand
    ctx.textAlign = 'left';
    ctx.font = '32px "Liberation Sans"';
    ctx.letterSpacing = '1px';
    ctx.fillText('RV', 480, 968);
    ctx.font = 'bold 17px "Liberation Sans"';
    ctx.letterSpacing = '0.5px';
    ctx.fillText('RAVE', 525, 974);
    ctx.font = '32px "Liberation Sans"';
    ctx.letterSpacing = '2px';
    ctx.save();
    ctx.translate(594, 968);
    ctx.scale(1.27, 1);
    ctx.fillText('in km/s', 0, 0);
    ctx.restore();
    ctx.restore();
  },
};

export default function App() {
  const canvasRef = useRef<HTMLCanvasElement>(null);

  useEffect(() => {
    if (!canvasRef.current) return;
    const chart = new Chart(canvasRef.current, {
      data: {
        datasets: [
          errorSet(asErrorBars([...fieldStars, ...flaggedStars, ...clippedErrors])),
          lineSet(unityLine.map((v) => ({ x: v, y: v })), 'yTop'),
          dotSet(asPoints(allStars), 'yTop'),
          starSet(asPoints(flaggedStars), 'yTop'),
          triangleSet(asPoints(greenTriangles), 'yTop'),
          lineSet(rangeX.map((v) => ({ x: v, y: 0 })), 'yBottom'),
          dotSet(asResiduals([...allStars, ...offFrameStars]), 'yBottom'),
          starSet(asResiduals(flaggedStars), 'yBottom'),
          triangleSet(asResiduals(greenTriangles), 'yBottom'),
        ] as any,
      },
      options: {
        responsive: false,
        animation: false,
        events: [],
        layout: { autoPadding: false, padding: { left: 103.5, right: 5.5, top: 3, bottom: 106 } },
        plugins: { legend: { display: false }, tooltip: { enabled: false } },
        scales: {
          x: { type: 'linear', min: rangeX[0], max: rangeX[1], display: false },
          yBottom: { type: 'linear', position: 'left', stack: 'rv', stackWeight: 219, min: rangeBottom[0], max: rangeBottom[1], display: false },
          yTop: { type: 'linear', position: 'left', stack: 'rv', stackWeight: 655, min: rangeTop[0], max: rangeTop[1], display: false },
        },
      } as any,
      plugins: [axisFrame],
    });
    return () => chart.destroy();
  }, []);

  return (
    <div style={{ position: 'absolute', left: 0, top: 0, width: 1123, height: 983, background: '#fff' }}>
      <canvas ref={canvasRef} width={1123} height={983} style={{ display: 'block' }} />
    </div>
  );
}
